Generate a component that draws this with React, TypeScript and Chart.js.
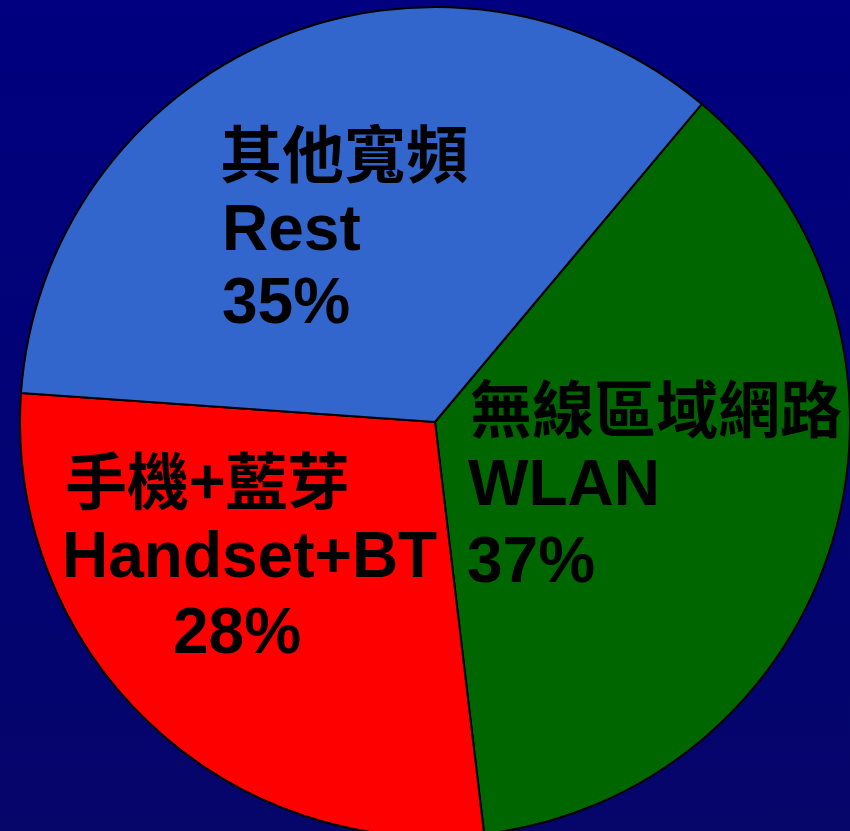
import React, { useEffect, useRef } from "react";
import { Chart, registerables } from "chart.js";

Chart.register(...registerables);

// ---- data ----
const chineseLabels = ["無線區域網路", "手機+藍芽", "其他寬頻"];
const englishLabels = ["WLAN", "Handset+BT", "Rest"];
const shares = [37, 28, 35];
const sliceColors = ["#006600", "#FF0000", "#3366CC"];

// ---- layout (offsets from pie centre, px) ----
const labelLayout = [
  { cjk: [35, -13], eng: [33, 83], pct: [32, 160] },
  { cjk: [-370, 59], eng: [-373, 155], pct: [-262, 231] },
  { cjk: [-215, -268], eng: [-213, -172], pct: [-213, -99] },
];

const labelPlugin = {
  id: "sliceLabels",
  afterDatasetsDraw(chart: any) {
    const meta = chart.getDatasetMeta(0);
    const first = meta.data[0];
    if (!first) return;
    const cx = first.x;
    const cy = first.y;
    const ctx = chart.ctx;
    ctx.save();
    ctx.fillStyle = "#000";
    ctx.textAlign = "left";
    shares.forEach((v, i) => {
      const l = labelLayout[i];
      ctx.font = 'bold 62px "Noto Sans CJK TC", sans-serif';
      ctx.textBaseline = "middle";
      ctx.fillText(chineseLabels[i], cx + l.cjk[0], cy + l.cjk[1]);
      ctx.font = 'bold 64px "Liberation Sans", Arial, sans-serif';
      ctx.textBaseline = "alphabetic";
      ctx.fillText(englishLabels[i], cx + l.eng[0], cy + l.eng[1]);
      ctx.fillText(`${v}%`, cx + l.pct[0], cy + l.pct[1]);
    });
    ctx.restore();
  },
};

export default function App() {
  const ref = useRef<HTMLCanvasElement>(null);
  useEffect(() => {
    if (!ref.current) return;
    const chart = new Chart(ref.current, {
      type: "pie",
      data: {
        labels: englishLabels,
        datasets: [
          {
            data: shares,
            backgroundColor: sliceColors,
            borderColor: "#000000",
            borderWidth: 2,
          },
        ],
      },
      options: {
        responsive: false,
        animation: false,
        rotation: 40,
        radius: 415,
        layout: { padding: { left: 20, top: 13, right: 0, bottom: 0 } },
        plugins: {
          legend: { display: false },
          tooltip: { enabled: false },
        },
      },
      plugins: [labelPlugin],
    });
    return () => chart.destroy();
  }, []);
  return (
    <div
      style={{
        position: "fixed",
        left: 0,
        top: 0,
        width: 850,
        height: 831,
        overflow: "hidden",
        background: "linear-gradient(#000080, #05056a)",
      }}
    >
      <canvas ref={ref} width={850} height={831} style={{ display: "block" }} />
    </div>
  );
}
